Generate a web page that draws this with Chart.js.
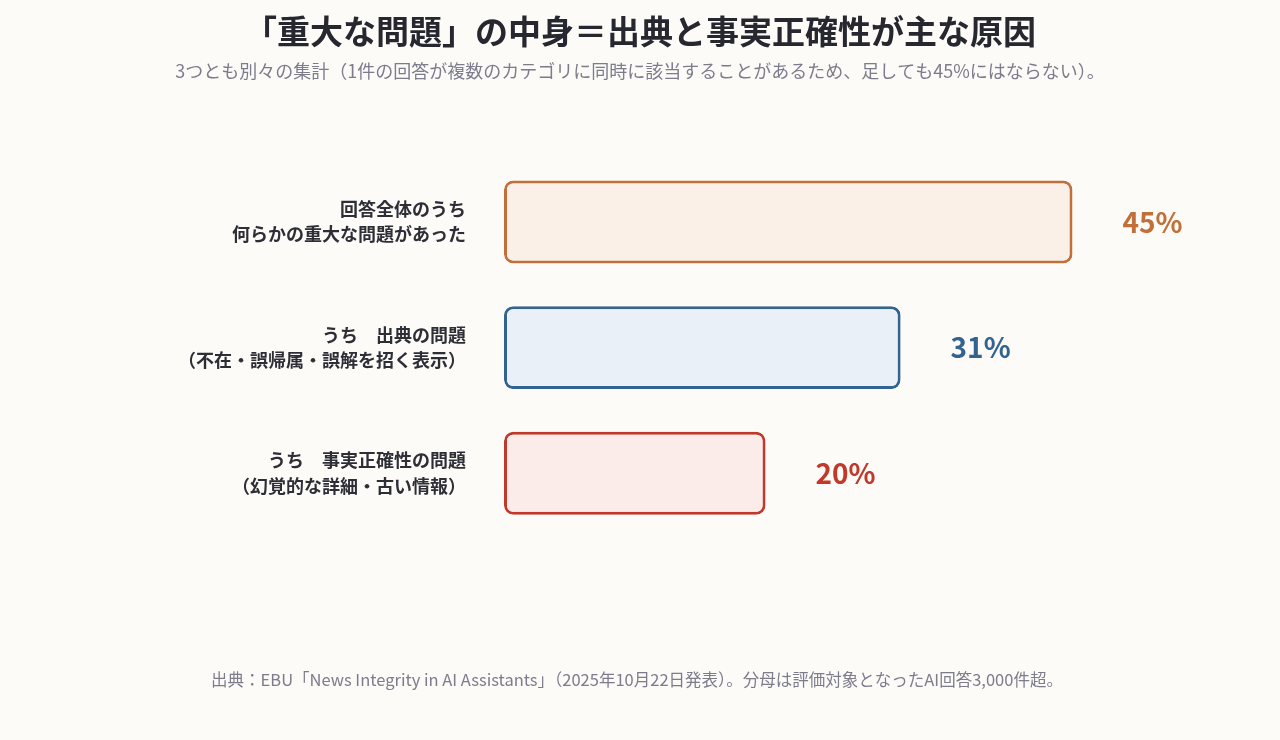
<!DOCTYPE html>
<html lang="ja">
<head>
<meta charset="UTF-8">
<title>重大な問題の中身</title>
<script src="https://cdn.jsdelivr.net/npm/chart.js@4"></script>
<style>
  html, body { margin: 0; padding: 0; background: #fcfbf7; }
  #contenedor { position: relative; width: 1280px; height: 740px; }
</style>
</head>
<body>
<div id="contenedor"><canvas id="graficoProblemas"></canvas></div>
<script>
// Datos
const categorias = [
    ['回答全体のうち', '何らかの重大な問題があった'],
    ['うち　出典の問題', '（不在・誤帰属・誤解を招く表示）'],
    ['うち　事実正確性の問題', '（幻覚的な詳細・古い情報）']
];
const porcentajes = [45, 31, 20];
const etiquetasValor = ['45%', '31%', '20%'];

const titulo = '「重大な問題」の中身＝出典と事実正確性が主な原因';
const subtitulo = '3つとも別々の集計（1件の回答が複数のカテゴリに同時に該当することがあるため、足しても45%にはならない）。';
const fuente = '出典：EBU「News Integrity in AI Assistants」（2025年10月22日発表）。分母は評価対象となったAI回答3,000件超。';

const coloresBorde = ['#c2703a', '#33638f', '#c0392b'];
const coloresRelleno = ['#fbf0e7', '#e9f0f8', '#fbecea'];

const FUENTE = '"Noto Sans CJK JP", "Noto Sans", sans-serif';

// Etiquetas de valor a la derecha de cada barra + nota al pie
const pluginTextos = {
    id: 'textos',
    afterDatasetsDraw(chart) {
        const ctx = chart.ctx;
        const meta = chart.getDatasetMeta(0);
        ctx.save();
        ctx.font = 'bold 28px ' + FUENTE;
        ctx.textAlign = 'left';
        ctx.textBaseline = 'middle';
        meta.data.forEach((barra, i) => {
            ctx.fillStyle = coloresBorde[i];
            ctx.fillText(etiquetasValor[i], barra.x + 50, barra.y);
        });
        ctx.font = '16.5px ' + FUENTE;
        ctx.fillStyle = '#7c7c8c';
        ctx.textAlign = 'center';
        ctx.fillText(fuente, 637, 680);
        ctx.restore();
    }
};

const ctxProblemas = document.getElementById('graficoProblemas').getContext('2d');

new Chart(ctxProblemas, {
    type: 'bar',
    data: {
        labels: categorias,
        datasets: [{
            data: porcentajes,
            base: -1.3,
            backgroundColor: coloresRelleno,
            borderColor: coloresBorde,
            borderWidth: 3,
            borderRadius: 9,
            borderSkipped: false,
            categoryPercentage: 1,
            barPercentage: 0.66
        }]
    },
    options: {
        indexAxis: 'y',
        responsive: true,
        maintainAspectRatio: false,
        animation: false,
        layout: { padding: { top: 0, right: 0, bottom: 204, left: 0 } },
        plugins: {
            legend: { display: false },
            tooltip: { enabled: false },
            title: {
                display: true,
                text: titulo,
                color: '#27272f',
                font: { family: FUENTE, size: 33, weight: 'bold' },
                padding: { top: 12, bottom: 5 }
            },
            subtitle: {
                display: true,
                text: subtitulo,
                color: '#7c7c8c',
                font: { family: FUENTE, size: 18 },
                padding: { top: 4, bottom: 77 }
            }
        },
        scales: {
            x: {
                display: false,
                min: -1.3,
                max: 61.9
            },
            y: {
                grid: { display: false, drawTicks: false },
                border: { display: false },
                ticks: {
                    color: '#2e2e37',
                    padding: 38,
                    font: { family: FUENTE, size: 18, weight: 'bold', lineHeight: 1.4 }
                },
                afterFit(escala) { escala.width = 504; }
            }
        }
    },
    plugins: [pluginTextos]
});
</script>
</body>
</html>
